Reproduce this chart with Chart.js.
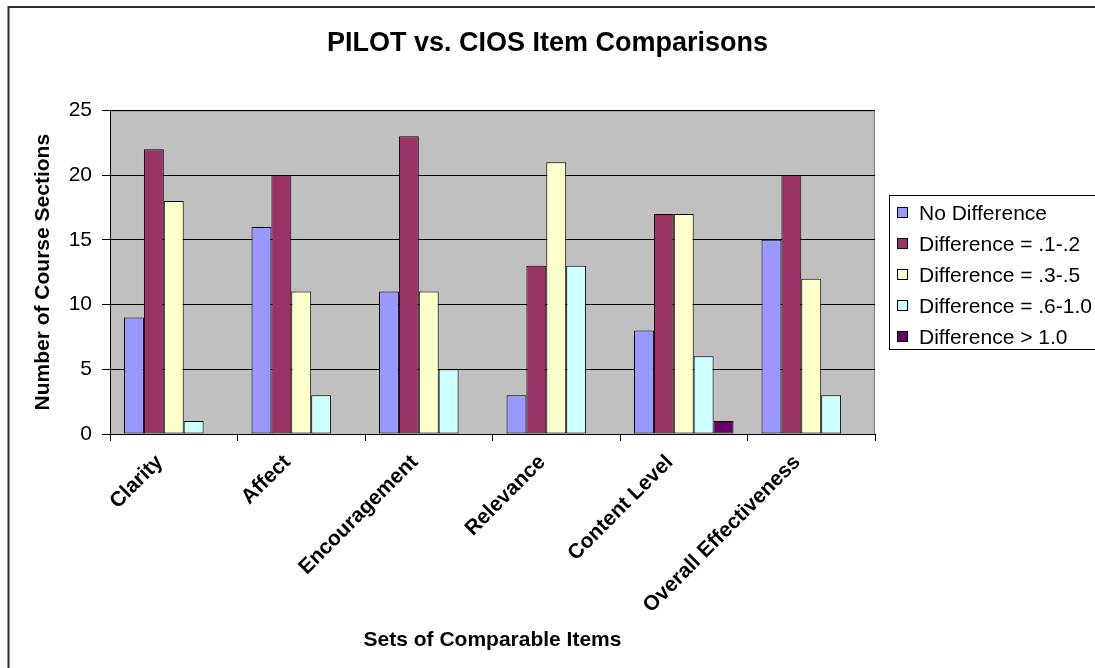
<!DOCTYPE html>
<html>
<head>
<meta charset="utf-8">
<title>PILOT vs. CIOS Item Comparisons</title>
<script src="https://cdn.jsdelivr.net/npm/chart.js@4/dist/chart.umd.min.js"></script>
<style>
  html, body { margin: 0; padding: 0; background: #ffffff; }
  #wrap { width: 1095px; height: 668px; position: relative; }
</style>
</head>
<body>
<div id="wrap"><canvas id="chart"></canvas></div>
<script>
// Item sets compared between the two instruments
const categories = ['Clarity', 'Affect', 'Encouragement', 'Relevance', 'Content Level', 'Overall Effectiveness'];

// Number of course sections falling in each difference band
const noDifference   = [9, 16, 11, 3, 8, 15];
const diff01to02     = [22, 20, 23, 13, 17, 20];
const diff03to05     = [18, 11, 11, 21, 17, 12];
const diff06to10     = [1, 3, 5, 13, 6, 3];
const diffOver10     = [0, 0, 0, 0, 1, 0];

const seriesLabels = ['No Difference', 'Difference = .1-.2', 'Difference = .3-.5', 'Difference = .6-1.0', 'Difference > 1.0'];
const seriesColors = ['#9999FF', '#993366', '#FFFFCC', '#CCFFFF', '#660066'];
const seriesValues = [noDifference, diff01to02, diff03to05, diff06to10, diffOver10];

const yTicks = [0, 5, 10, 15, 20, 25];

const FONT = "'Liberation Sans', Arial, Helvetica, sans-serif";

// Outer frame of the chart object (left and top edges are visible)
const framePlugin = {
  id: 'frame',
  afterDraw(chart) {
    const ctx = chart.ctx;
    ctx.save();
    ctx.strokeStyle = '#2a2a2a';
    ctx.lineWidth = 2;
    ctx.beginPath();
    ctx.moveTo(8.5, chart.height + 2);
    ctx.lineTo(8.5, 7);
    ctx.lineTo(chart.width + 2, 7);
    ctx.stroke();
    ctx.restore();
  }
};

// Grey plot area background
const plotBgPlugin = {
  id: 'plotBg',
  beforeDraw(chart) {
    const {ctx, chartArea: a} = chart;
    ctx.save();
    ctx.fillStyle = '#C0C0C0';
    ctx.fillRect(a.left, a.top, a.right - a.left, a.bottom - a.top);
    ctx.strokeStyle = '#808080';
    ctx.lineWidth = 1;
    ctx.strokeRect(a.left + 0.5, a.top + 0.5, a.right - a.left - 1, a.bottom - a.top);
    ctx.restore();
  }
};

// Boxed legend on the right, built from the datasets
const boxedLegendPlugin = {
  id: 'boxedLegend',
  afterDraw(chart) {
    const {ctx, chartArea: a} = chart;
    const sets = chart.data.datasets;
    const left = a.right + 14;
    const top = 195;
    const rowH = 31;
    const height = 154;
    ctx.save();
    ctx.fillStyle = '#ffffff';
    ctx.fillRect(left, top, chart.width - left + 5, height);
    ctx.strokeStyle = '#000000';
    ctx.lineWidth = 1;
    ctx.strokeRect(left + 0.5, top + 0.5, chart.width - left + 5, height);
    ctx.font = '21px ' + FONT;
    ctx.textBaseline = 'middle';
    ctx.textAlign = 'left';
    sets.forEach((ds, i) => {
      const cy = top + 18 + i * rowH;
      ctx.fillStyle = ds.backgroundColor;
      ctx.fillRect(left + 8, cy - 6, 11, 11);
      ctx.strokeStyle = '#000000';
      ctx.strokeRect(left + 8.5, cy - 5.5, 10, 10);
      ctx.fillStyle = '#000000';
      ctx.fillText(ds.label, left + 30, cy + 1);
    });
    ctx.restore();
  }
};

const datasets = seriesLabels.map((label, i) => ({
  label: label,
  data: seriesValues[i],
  backgroundColor: seriesColors[i],
  borderColor: '#000000',
  borderWidth: 1,
  borderSkipped: false,
  categoryPercentage: 0.78,
  barPercentage: 1.0
}));

new Chart(document.getElementById('chart'), {
  type: 'bar',
  data: { labels: categories, datasets: datasets },
  plugins: [plotBgPlugin, framePlugin, boxedLegendPlugin],
  options: {
    responsive: true,
    maintainAspectRatio: false,
    animation: false,
    layout: { padding: 0 },
    plugins: {
      legend: { display: false },
      tooltip: { enabled: false },
      title: {
        display: true,
        text: 'PILOT vs. CIOS Item Comparisons',
        color: '#000000',
        font: { family: FONT, size: 27, weight: 'bold' },
        padding: { top: 27, bottom: 51 }
      }
    },
    scales: {
      x: {
        offset: true,
        grid: {
          display: true,
          offset: true,
          drawOnChartArea: false,
          drawTicks: true,
          tickLength: 7,
          color: '#000000'
        },
        border: { display: true, color: '#000000', width: 1 },
        ticks: {
          autoSkip: false,
          minRotation: 45,
          maxRotation: 45,
          padding: 9,
          labelOffset: -14,
          color: '#000000',
          font: { family: FONT, size: 21, weight: 'bold' }
        },
        title: {
          display: true,
          text: 'Sets of Comparable Items',
          color: '#000000',
          font: { family: FONT, size: 21, weight: 'bold' },
          padding: { top: 0, bottom: 15 }
        },
        afterFit(scale) { scale.height = 234; }
      },
      y: {
        min: 0,
        max: 25,
        afterBuildTicks(scale) { scale.ticks = yTicks.map(v => ({ value: v })); },
        grid: {
          display: true,
          color: '#000000',
          lineWidth: 1,
          drawTicks: true,
          tickLength: 8
        },
        border: { display: true, color: '#000000', width: 1 },
        ticks: {
          padding: 10,
          color: '#000000',
          font: { family: FONT, size: 21 }
        },
        title: {
          display: true,
          text: 'Number of Course Sections',
          color: '#000000',
          font: { family: FONT, size: 21, weight: 'bold' },
          padding: { top: 31, bottom: 0 }
        },
        afterFit(scale) { scale.width = 110; }
      },
      // Empty right-hand strip that holds the legend box
      legendSpace: {
        type: 'linear',
        position: 'right',
        display: true,
        grid: { display: false, drawTicks: false },
        border: { display: false },
        ticks: { display: false },
        afterFit(scale) { scale.width = 220; }
      }
    }
  }
});
</script>
</body>
</html>
